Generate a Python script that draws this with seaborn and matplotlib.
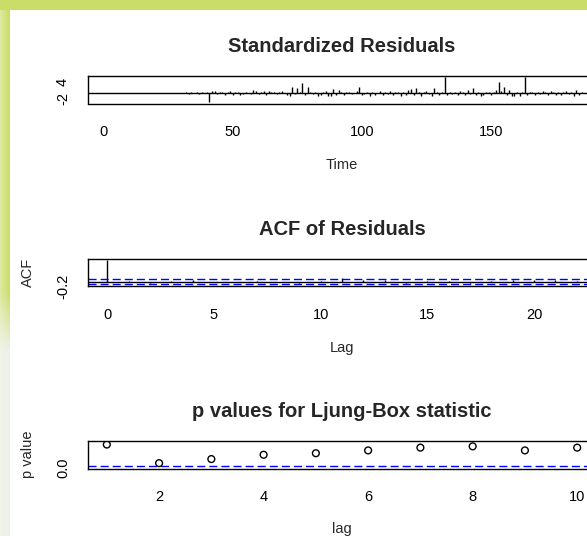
import numpy as np
import matplotlib
matplotlib.use("Agg")
import matplotlib.pyplot as plt
import seaborn as sns
import pandas as pd

W, H, DPI = 587, 536, 100

# ---------------- data ----------------
time_index = list(range(1, 186))
std_resid = [
    0, 0, 0, 0, 0, 0, 0, 0, 0, 0, 0, 0, 0, 0, 0, 0, 0, 0, 0, 0,
    0, 0, 0, 0, 0, 0, 0, 0, 0, 0, 0,
    0.3, -0.2, 0.3, 0.1, 0.4, -0.3, 0.5, 0.2, 0.6,
    -3.3,
    0.7, 0.9, -0.4, 0.6, 0.5, -0.6, 0.4, 0.8, -0.5,
    0.3, 0.6, -0.7, -0.3, 0.4, 0.2, -0.4, 1.0, 0.7, -0.3,
    0.5, 0.9, -0.8, 0.8, 0.6, 0.3, -0.2, 0.4, 0.7, 0.2, -0.5, -0.9,
    2.3, -0.4, 1.8, 0.5, 3.6, -0.6, 2.1, 0.4,
    -0.3, 0.5, -0.9, -0.7, 0.3, 0.8, -0.9, -1.0, 1.5, -0.5,
    1.2, 0.4, -0.6, 0.3, 0.6, -0.4, 0.2, 0.9, 2.4, -0.8,
    -0.4, 0.6, -0.9, 0.3, -0.6, 0.2, 0.8, -0.5, 0.4, -0.3,
    0.9, -0.7, 0.5, 0.3, -0.9, 0.4, -0.5, 1.1, 1.4, -0.6,
    1.7, 0.3, -1.1, 0.6, 0.9, -0.4, -1.0, 2.0, 0.5, -0.8, 0.3,
    5.8,
    -0.6, 0.4, -0.3, 0.6, -0.5, 0.8, 0.3, -0.7, 1.1, -0.4,
    1.9,
    -0.6, 0.5, -0.9, -0.8, 0.6, 0.4, -0.7, 0.5, 1.0,
    3.9, 0.8, 2.3, -0.7, 1.3, -0.9, -1.0, 0.5, -0.9, 0.6,
    5.8,
    -0.5, 0.6, 0.3, -0.8, 0.5, -0.4, 0.7, 0.3, -0.6, 0.8, 0.5, -0.7,
    0.4, -0.5, 0.6, 0.9, -0.4, 0.3, -0.9, 1.2, -0.6, 0.4,
]
resid_xticks = [0, 50, 100, 150]
resid_yticks = [-2, 0, 2, 4, 6]
resid_ylabels = ["-2", "", "", "4", ""]

acf_lags = list(range(0, 23))
acf_values = [1.0, 0.01, -0.05, 0.02, 0.05, -0.02, -0.04, 0.01, -0.01, -0.05,
              0.01, 0.14, 0.06, 0.07, -0.05, 0.04, 0.01, -0.05, 0.02, 0.06,
              0.05, 0.06, 0.02]
acf_ci = 0.135
acf_xticks = [0, 5, 10, 15, 20]
acf_yticks = [-0.2, 0.0, 0.2, 0.4, 0.6, 0.8, 1.0]
acf_ylabels = ["-0.2", "", "", "", "", "", ""]

lb_lags = list(range(1, 11))
lb_pvalues = [0.90, 0.17, 0.33, 0.50, 0.56, 0.67, 0.78, 0.83, 0.67, 0.78]
lb_xticks = [2, 4, 6, 8, 10]
lb_yticks = [0.0, 0.2, 0.4, 0.6, 0.8, 1.0]
lb_ylabels = ["0.0", "", "", "", "", ""]
lb_threshold = 0.05

# ---------------- style ----------------
sns.set_theme(style="white")
plt.rcParams['font.family'] = ['Liberation Sans', 'DejaVu Sans']

fig = plt.figure(figsize=(W / DPI, H / DPI), dpi=DPI)
fig.patch.set_facecolor("white")

# decorative background (green page border of the screenshot)
bg = fig.add_axes([0, 0, 1, 1], zorder=-10)
img = np.ones((H, W, 3))
green = np.array([0.79, 0.87, 0.41])
rows = np.arange(H)
fade = np.clip((rows - 290) / 60.0, 0, 1)[:, None]
left_col = green[None, :] * (1 - fade) + np.array([0.93, 0.94, 0.93])[None, :] * fade
for c in range(0, 10):
    mix = 0.55 + 0.45 * (c / 9.0)
    img[:, c, :] = left_col * mix + np.array([0.96, 0.97, 0.88]) * (1 - mix)
img[0:10, :, :] = green
bg.imshow(img, aspect="auto", extent=[0, W, H, 0])
bg.set_xlim(0, W)
bg.set_ylim(H, 0)
bg.axis("off")

L, R, BH = 88, 596, 27.5
TOPS = [76, 258.5, 441]

TITLE_FS = 14.5
LAB_FS = 10.5


def place(ax, top):
    ax.set_position([L / W, 1 - (top + BH) / H, (R - L) / W, BH / H])
    for s in ax.spines.values():
        s.set_visible(True)
        s.set_color("black")
        s.set_linewidth(1.0)
    ax.set_facecolor("white")
    ax.tick_params(axis="both", which="major", direction="out", length=6.5,
                   width=1.0, color="black", labelsize=LAB_FS, labelcolor="black")
    ax.tick_params(axis="x", pad=9)
    ax.tick_params(axis="y", labelrotation=90, pad=6.5)
    for lab in ax.get_yticklabels():
        lab.set_va("center")


# Panel 1: standardized residuals
ax1 = fig.add_axes([0, 0, 1, 1])
ax1.vlines(time_index, 0, std_resid, color="black", linewidth=1.0)
ax1.axhline(0, color="black", linewidth=1.0)
ax1.set_xticks(resid_xticks)
ax1.set_xticklabels([str(v) for v in resid_xticks])
ax1.set_yticks(resid_yticks)
ax1.set_yticklabels(resid_ylabels)
ax1.set_xlim(-6.0, 190.6)
ax1.set_ylim(-3.664, 6.164)
ax1.set_title("Standardized Residuals", fontsize=TITLE_FS, fontweight="bold", pad=17)
ax1.set_xlabel("Time", fontsize=LAB_FS, labelpad=14)
ax1.set_ylabel("")
place(ax1, TOPS[0])

# Panel 2: ACF of residuals
ax2 = fig.add_axes([0, 0, 1, 1])
ax2.vlines(acf_lags, 0, acf_values, color="black", linewidth=1.0)
ax2.axhline(0, color="black", linewidth=1.0)
for v in (acf_ci, -acf_ci):
    ax2.axhline(v, color="blue", linewidth=1.0, linestyle=(0, (5.8, 2.9)))
ax2.set_xticks(acf_xticks)
ax2.set_xticklabels([str(v) for v in acf_xticks])
ax2.set_yticks(acf_yticks)
ax2.set_yticklabels(acf_ylabels)
ax2.set_xlim(-0.905, 22.9)
ax2.set_ylim(-0.205, 1.048)
ax2.set_title("ACF of Residuals", fontsize=TITLE_FS, fontweight="bold", pad=17)
ax2.set_xlabel("Lag", fontsize=LAB_FS, labelpad=14)
ax2.set_ylabel("ACF", fontsize=LAB_FS, labelpad=15)
place(ax2, TOPS[1])

# Panel 3: Ljung-Box p-values
ax3 = fig.add_axes([0, 0, 1, 1])
lb_df = pd.DataFrame({"lag": lb_lags, "p": lb_pvalues})
sns.scatterplot(data=lb_df, x="lag", y="p", ax=ax3, marker="o", s=24,
                facecolor="none", edgecolor="black", linewidth=1.0, legend=False)
ax3.axhline(lb_threshold, color="blue", linewidth=1.0, linestyle=(0, (5.8, 2.9)))
ax3.set_xticks(lb_xticks)
ax3.set_xticklabels([str(v) for v in lb_xticks])
ax3.set_yticks(lb_yticks)
ax3.set_yticklabels(lb_ylabels)
ax3.set_xlim(0.64, 10.36)
ax3.set_ylim(-0.04, 1.04)
ax3.set_title("p values for Ljung-Box statistic", fontsize=TITLE_FS, fontweight="bold", pad=17)
ax3.set_xlabel("lag", fontsize=LAB_FS, labelpad=13)
ax3.set_ylabel("p value", fontsize=LAB_FS, labelpad=15)
place(ax3, TOPS[2])

for ax in (ax1, ax2, ax3):
    for lab in ax.get_yticklabels():
        lab.set_va("center")

fig.savefig("out.png", dpi=DPI)
